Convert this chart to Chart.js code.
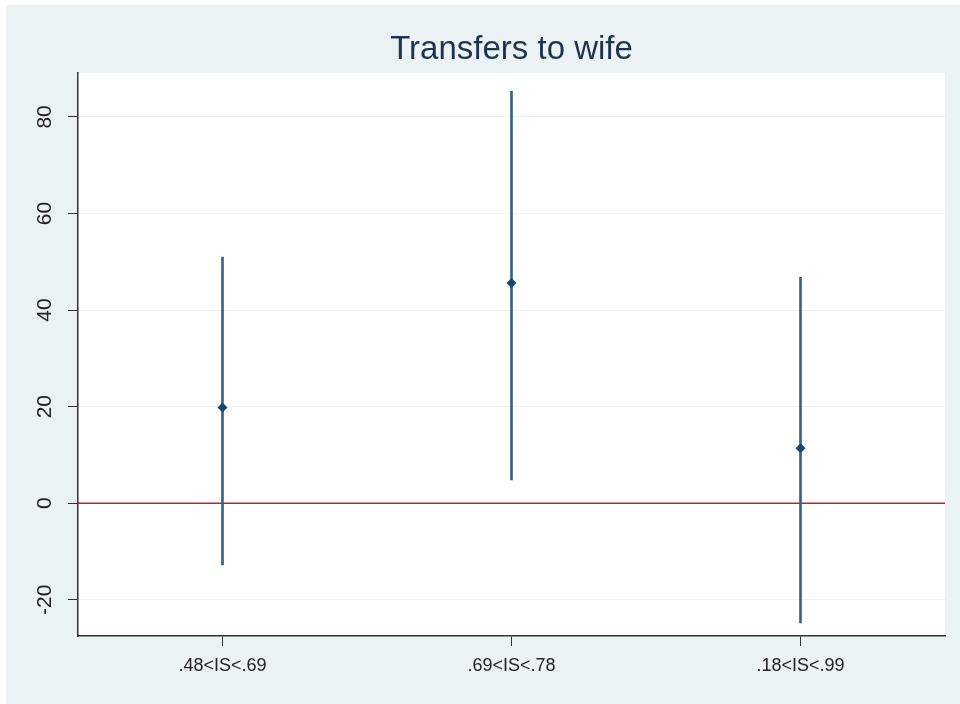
<!DOCTYPE html>
<html>
<head>
<meta charset="utf-8">
<title>Transfers to wife</title>
<script src="https://cdn.jsdelivr.net/npm/chart.js@4.4.0/dist/chart.umd.min.js"></script>
<style>
    html, body { margin: 0; padding: 0; background: #ffffff; }
    #wrap { position: absolute; left: 6px; top: 5px; width: 954px; height: 699px; }
</style>
</head>
<body>
<div id="wrap"><canvas id="chart" width="954" height="699"></canvas></div>
<script>
// ---- data ----
const categories = ['.48<IS<.69', '.69<IS<.78', '.18<IS<.99'];
const estimates = [19.8, 45.6, 11.4];
const ciLower = [-12.8, 4.8, -24.8];
const ciUpper = [51.0, 85.3, 46.8];
const yTicks = [-20, 0, 20, 40, 60, 80];
const refLine = 0;

const NAVY = '#1a476f';
const BG = '#eaf2f3';

// plot background: light panel outside, white inside the axes
const backgroundPlugin = {
    id: 'stataBackground',
    beforeDraw(chart) {
        const { ctx, chartArea } = chart;
        ctx.save();
        ctx.fillStyle = BG;
        ctx.fillRect(0, 0, chart.width, chart.height);
        ctx.fillStyle = '#ffffff';
        ctx.fillRect(chartArea.left, chartArea.top, chartArea.right - chartArea.left, chartArea.bottom - chartArea.top);
        ctx.restore();
    }
};

// horizontal reference line at y = 0
const refLinePlugin = {
    id: 'refLine',
    beforeDatasetsDraw(chart) {
        const { ctx, chartArea, scales } = chart;
        const y = scales.y.getPixelForValue(refLine);
        ctx.save();
        ctx.strokeStyle = '#c41a40';
        ctx.lineWidth = 1.5;
        ctx.beginPath();
        ctx.moveTo(chartArea.left, y);
        ctx.lineTo(chartArea.right, y);
        ctx.stroke();
        ctx.restore();
    }
};

new Chart(document.getElementById('chart'), {
    data: {
        labels: categories,
        datasets: [
            {
                type: 'line',
                label: 'Estimate',
                data: estimates,
                showLine: false,
                pointStyle: 'rectRot',
                pointRadius: 5,
                pointBackgroundColor: NAVY,
                pointBorderColor: NAVY,
                pointBorderWidth: 0,
                order: 0
            },
            {
                // confidence intervals as thin floating bars
                type: 'bar',
                label: 'CI',
                data: ciLower.map((lo, i) => [lo, ciUpper[i]]),
                backgroundColor: '#35628c',
                borderWidth: 0,
                barThickness: 2,
                order: 1
            }
        ]
    },
    options: {
        responsive: false,
        animation: false,
        devicePixelRatio: 1,
        layout: { padding: { top: 0, right: 15, bottom: 0, left: 0 } },
        plugins: {
            legend: { display: false },
            tooltip: { enabled: false },
            title: {
                display: true,
                text: 'Transfers to wife',
                fullSize: false,
                color: '#1e3350',
                font: { family: 'Arial, "Liberation Sans", sans-serif', size: 33, weight: 'normal' },
                padding: { top: 25, bottom: 3.4 }
            }
        },
        scales: {
            x: {
                type: 'category',
                offset: true,
                grid: {
                    display: true,
                    drawOnChartArea: false,
                    drawTicks: true,
                    tickLength: 10,
                    tickColor: '#333333',
                    offset: false
                },
                border: { color: '#333333', width: 1.5 },
                ticks: {
                    color: '#222222',
                    padding: 9,
                    font: { family: 'Arial, "Liberation Sans", sans-serif', size: 18 }
                },
                afterFit(scale) { scale.height = 68; }
            },
            y: {
                type: 'linear',
                min: -27.5,
                max: 89.1,
                afterBuildTicks(scale) {
                    scale.ticks = yTicks.map(v => ({ value: v }));
                },
                grid: {
                    color: '#edf3f4',
                    lineWidth: 1,
                    tickLength: 10,
                    tickColor: '#333333'
                },
                border: { color: '#333333', width: 1.5 },
                ticks: {
                    color: '#222222',
                    minRotation: 90,
                    maxRotation: 90,
                    crossAlign: 'center',
                    padding: 8,
                    font: { family: 'Arial, "Liberation Sans", sans-serif', size: 21 }
                },
                afterFit(scale) { scale.width = 72; }
            }
        }
    },
    plugins: [backgroundPlugin, refLinePlugin]
});
</script>
</body>
</html>
